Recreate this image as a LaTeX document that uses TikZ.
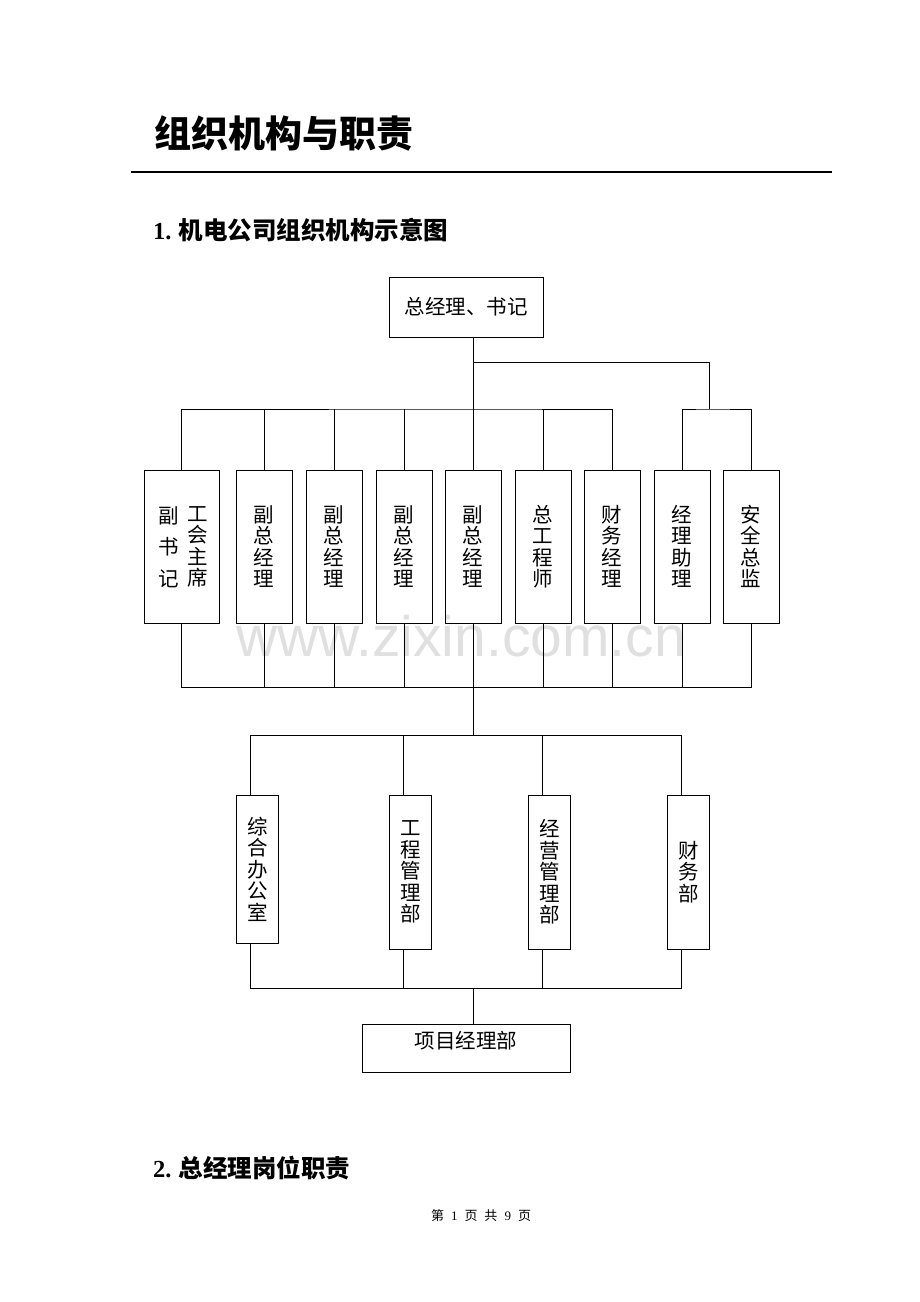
\documentclass[tikz,border=0pt]{standalone}
\usepackage{fontspec}
\setmainfont{Liberation Serif}
\newfontfamily\cjk{Noto Sans CJK SC}
\newfontfamily\wmfont{Liberation Sans}
\begin{document}
\begin{tikzpicture}[x=1pt, y=-1pt,
    post/.style={rectangle, draw, line width=1pt, inner sep=0pt, align=center,
        font=\cjk\fontsize{20.5}{21.5}\selectfont},
    col/.style={post, minimum width=56pt, minimum height=153pt},
    dept/.style={post, minimum width=41.6pt, minimum height=154pt},
    link/.style={line width=1pt},
    heading/.style={anchor=west, inner sep=0pt}
]
    \useasboundingbox (0,0) rectangle (920,1302);

    % Watermark
    \node[text=black!12, font=\wmfont\fontsize{57}{57}\selectfont] (wm) at (461,636) {www.zixin.com.cn};

    % Headings
    \node[heading, font=\cjk\bfseries\fontsize{37}{37}\selectfont] (title) at (154,133) {组织机构与职责};
    \draw[line width=2.2pt] (131,172) -- (832,172);
    \node[heading, font=\bfseries\fontsize{24.5}{24.5}\selectfont] (sec1) at (153,230) {1.\hspace{7pt}{\cjk 机电公司组织机构示意图}};
    \node[heading, font=\bfseries\fontsize{24.5}{24.5}\selectfont] (sec2) at (153,1168) {2.\hspace{7pt}{\cjk 总经理岗位职责}};
    \node[font=\fontsize{13}{13}\selectfont] (foot) at (481,1216)
        {{\cjk 第}\hspace{7pt}1\hspace{7pt}{\cjk 页}\hspace{7pt}{\cjk 共}\hspace{7pt}9\hspace{7pt}{\cjk 页}};

    % Top
    \node[post, minimum width=154pt, minimum height=60pt] (gm) at (466,307) {总经理、书记};

    % First row
    \node[post, minimum width=75pt, minimum height=153pt] (fsj) at (181.5,546.5) {};
    \node[inner sep=0pt, align=center, font=\cjk\fontsize{20.5}{31.5}\selectfont] (fsjL) at (168.5,547) {副\\书\\记};
    \node[inner sep=0pt, align=center, font=\cjk\fontsize{20.5}{21.5}\selectfont] (fsjR) at (197.5,547) {工\\会\\主\\席};
    \node[col] (fz1) at (264,546.5) {副\\总\\经\\理};
    \node[col] (fz2) at (334,546.5) {副\\总\\经\\理};
    \node[col] (fz3) at (404,546.5) {副\\总\\经\\理};
    \node[col] (fz4) at (473,546.5) {副\\总\\经\\理};
    \node[col] (zgcs) at (543,546.5) {总\\工\\程\\师};
    \node[col] (cwjl) at (612,546.5) {财\\务\\经\\理};
    \node[col] (jlzl) at (682,546.5) {经\\理\\助\\理};
    \node[col] (aqzj) at (751,546.5) {安\\全\\总\\监};

    % Departments
    \node[post, minimum width=41.6pt, minimum height=148pt] (zhb) at (257.5,869) {综\\合\\办\\公\\室};
    \node[dept] (gcb) at (410.5,872) {工\\程\\管\\理\\部};
    \node[dept] (jyb) at (549.5,872) {经\\营\\管\\理\\部};
    \node[dept] (cwb) at (688.5,872) {财\\务\\部};

    % Bottom
    \node[post, minimum width=208pt, minimum height=48pt, text depth=16pt] (xmb) at (466,1048) {项目经理部};

    % Junctions
    \coordinate (gmB) at ([xshift=7pt]gm.south);
    \coordinate (split) at (473,362);
    \coordinate (busA) at (473,409);
    \coordinate (busB) at (709,409);
    \coordinate (busC) at (473,687);
    \coordinate (busD) at (473,735);
    \coordinate (busE) at (473,988);
    \foreach \n in {zhb,gcb,jyb,cwb} {
        \coordinate (\n T) at ([xshift=-7pt]\n.north);
        \coordinate (\n B) at ([xshift=-7pt]\n.south);
    }
    \coordinate (xmbT) at ([xshift=7pt]xmb.north);

    % Connections
    \draw[link] (gmB) -- (busA);
    \draw[link] (split) -| (busB);
    \draw[link] (fsj.north) |- (busA) -| (cwjl.north);
    \draw[link] (jlzl.north) |- (busB) -| (aqzj.north);
    \foreach \n in {fz1,fz2,fz3,fz4,zgcs}
        \draw[link] (\n.north) -- (\n.north |- busA);
    \draw[link] (fsj.south) |- (busC) -| (aqzj.south);
    \foreach \n in {fz1,fz2,fz3,fz4,zgcs,cwjl,jlzl}
        \draw[link] (\n.south) -- (\n.south |- busC);
    \draw[link] (busC) -- (busD);
    \draw[link] (zhbT) |- (busD) -| (cwbT);
    \foreach \n in {gcb,jyb}
        \draw[link] (\n T) -- (\n T |- busD);
    \draw[link] (zhbB) |- (busE) -| (cwbB);
    \foreach \n in {gcb,jyb}
        \draw[link] (\n B) -- (\n B |- busE);
    \draw[link] (busE) -- (xmbT);

\end{tikzpicture}
\end{document}
